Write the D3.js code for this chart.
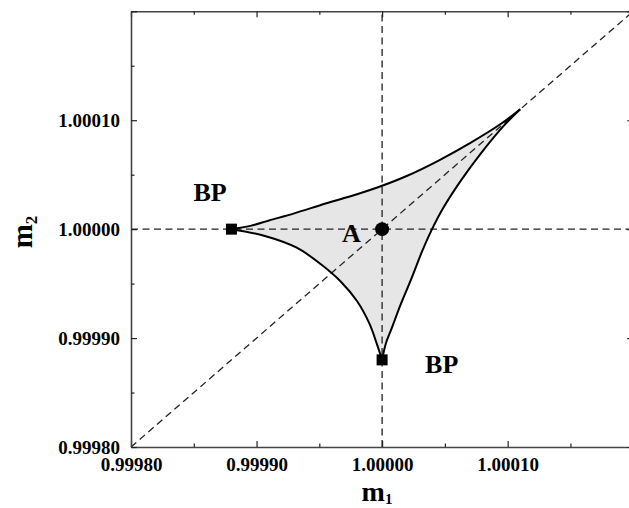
<!DOCTYPE html>
<html>
<head>
<meta charset="utf-8">
<script src="https://cdn.jsdelivr.net/npm/d3@7"></script>
<style>
  html, body { margin: 0; padding: 0; background: #fff; }
  svg { display: block; }
  text { font-family: "Liberation Serif", "Times New Roman", serif; font-weight: bold; fill: #000; }
</style>
</head>
<body>
<svg id="chart" width="629" height="508"></svg>
<script>
// Axis ticks
const majorTicks = [0.9998, 0.9999, 1.0000, 1.0001, 1.0002];
const labelTicks = [0.9998, 0.9999, 1.0000, 1.0001];
const minorTicks = [0.99985, 0.99995, 1.00005, 1.00015];

// Boundary branches of the stability region, as (m1, m2)
const upperBranch = [
  [0.999880, 1.000000], [0.999895, 1.000003], [0.999910, 1.000008],
  [0.999930, 1.0000145], [0.999955, 1.0000235], [0.999980, 1.000032],
  [1.000000, 1.0000398], [1.000020, 1.000049], [1.000045, 1.000063],
  [1.000070, 1.000079], [1.000095, 1.000097], [1.000110, 1.000110]
];
const rightBranch = [
  [1.000000, 0.999880], [1.000003, 0.999895], [1.000008, 0.999910],
  [1.0000145, 0.999930], [1.0000235, 0.999955], [1.000032, 0.999980],
  [1.0000398, 1.000000], [1.000049, 1.000020], [1.000063, 1.000045],
  [1.000079, 1.000070], [1.000097, 1.000095], [1.000110, 1.000110]
];
const lowerBranch = [
  [0.999880, 1.000000], [0.999906, 0.999994], [0.999932, 0.999983],
  [0.999951, 0.999968], [0.999967, 0.999952], [0.999980, 0.999934],
  [0.999990, 0.999913], [0.999996, 0.999894], [1.000000, 0.999880]
];

// Bifurcation points and the symmetric point A
const breakPoints = [[0.99988, 1.0000], [1.0000, 0.99988]];
const pointA = [1.0000, 1.0000];

// Dashed guide lines
const guideLines = [
  [[0.9998, 1.0000], [1.0002, 1.0000]],
  [[1.0000, 0.9998], [1.0000, 1.0002]],
  [[0.9998, 0.9998], [1.0002, 1.0002]]
];

const svg = d3.select("#chart");
const x = d3.scaleLinear().domain([0.9998, 1.0002]).range([131, 633.2]);
const y = d3.scaleLinear().domain([0.9998, 1.0002]).range([447, 11.3]);

const line = d3.line().x(d => x(d[0])).y(d => y(d[1])).curve(d3.curveCatmullRom.alpha(0.5));
const straight = d3.line().x(d => x(d[0])).y(d => y(d[1]));

// Filled region: upper branch out to the tip, back down the right branch, then the lower branch
const toL = s => "L" + s.slice(1);
const regionPath = line(upperBranch)
  + toL(line(rightBranch.slice().reverse()))
  + toL(line(lowerBranch.slice().reverse())) + "Z";
svg.append("path").attr("d", regionPath).attr("fill", "#e6e6e6").attr("stroke", "none");

// Guide lines
svg.selectAll(".guide").data(guideLines).join("path")
  .attr("class", "guide")
  .attr("d", straight)
  .attr("fill", "none").attr("stroke", "#222").attr("stroke-width", 1.3)
  .attr("stroke-dasharray", "7,4.5");

// Boundary curves
svg.selectAll(".branch").data([upperBranch, rightBranch, lowerBranch]).join("path")
  .attr("class", "branch")
  .attr("d", line)
  .attr("fill", "none").attr("stroke", "#000").attr("stroke-width", 2);

// Axes with inward ticks
const fmt = d3.format(".5f");
const axisStyle = g => {
  g.select(".domain").attr("stroke", "#444").attr("stroke-width", 1.6);
  g.selectAll(".tick line").attr("stroke", "#222").attr("stroke-width", 1.2);
  g.selectAll("text").attr("font-size", 19).attr("font-family", "Liberation Serif, serif").attr("font-weight", "bold").attr("fill", "#000");
};

// bottom
svg.append("g").attr("transform", `translate(0,${y.range()[0]})`)
  .call(d3.axisBottom(x).tickValues(majorTicks).tickSizeInner(-6).tickSizeOuter(0).tickPadding(11)
    .tickFormat(d => labelTicks.includes(d) ? fmt(d) : ""))
  .call(axisStyle);
svg.append("g").attr("transform", `translate(0,${y.range()[0]})`)
  .call(d3.axisBottom(x).tickValues(minorTicks).tickSizeInner(-3.5).tickSizeOuter(0).tickFormat(""))
  .call(g => g.select(".domain").remove())
  .call(axisStyle);
// top
svg.append("g").attr("transform", `translate(0,${y.range()[1]})`)
  .call(d3.axisTop(x).tickValues(majorTicks).tickSizeInner(-6).tickSizeOuter(0).tickFormat(""))
  .call(axisStyle);
svg.append("g").attr("transform", `translate(0,${y.range()[1]})`)
  .call(d3.axisTop(x).tickValues(minorTicks).tickSizeInner(-3.5).tickSizeOuter(0).tickFormat(""))
  .call(g => g.select(".domain").remove())
  .call(axisStyle);
// left
svg.append("g").attr("transform", `translate(${x.range()[0]},0)`)
  .call(d3.axisLeft(y).tickValues(majorTicks).tickSizeInner(-6).tickSizeOuter(0).tickPadding(11)
    .tickFormat(d => labelTicks.includes(d) ? fmt(d) : ""))
  .call(axisStyle);
svg.append("g").attr("transform", `translate(${x.range()[0]},0)`)
  .call(d3.axisLeft(y).tickValues(minorTicks).tickSizeInner(-3.5).tickSizeOuter(0).tickFormat(""))
  .call(g => g.select(".domain").remove())
  .call(axisStyle);
// right
svg.append("g").attr("transform", `translate(${x.range()[1]},0)`)
  .call(d3.axisRight(y).tickValues(majorTicks).tickSizeInner(-6).tickSizeOuter(0).tickFormat(""))
  .call(axisStyle);
svg.append("g").attr("transform", `translate(${x.range()[1]},0)`)
  .call(d3.axisRight(y).tickValues(minorTicks).tickSizeInner(-3.5).tickSizeOuter(0).tickFormat(""))
  .call(g => g.select(".domain").remove())
  .call(axisStyle);

// Markers
const sq = 11;
svg.selectAll(".bp").data(breakPoints).join("rect")
  .attr("class", "bp")
  .attr("x", d => x(d[0]) - sq / 2).attr("y", d => y(d[1]) - sq / 2)
  .attr("width", sq).attr("height", sq).attr("fill", "#000");
svg.append("circle").attr("cx", x(pointA[0])).attr("cy", y(pointA[1])).attr("r", 7).attr("fill", "#000");

// Point labels
svg.append("text").attr("x", x(breakPoints[0][0]) - 38).attr("y", y(breakPoints[0][1]) - 28)
  .attr("font-size", 26).text("BP");
svg.append("text").attr("x", x(breakPoints[1][0]) + 43).attr("y", y(breakPoints[1][1]) + 13)
  .attr("font-size", 26).text("BP");
svg.append("text").attr("x", x(pointA[0]) - 40).attr("y", y(pointA[1]) + 13)
  .attr("font-size", 26).text("A");

// Axis titles
const xt = svg.append("text").attr("x", 377).attr("y", 501).attr("text-anchor", "middle").attr("font-size", 28);
xt.append("tspan").text("m");
xt.append("tspan").attr("font-size", 15).attr("dy", 3).text("1");

const yt = svg.append("text").attr("transform", "translate(32,232) rotate(-90)")
  .attr("text-anchor", "middle").attr("font-size", 29);
yt.append("tspan").text("m");
yt.append("tspan").attr("font-size", 17).attr("dy", 5).text("2");
</script>
</body>
</html>
